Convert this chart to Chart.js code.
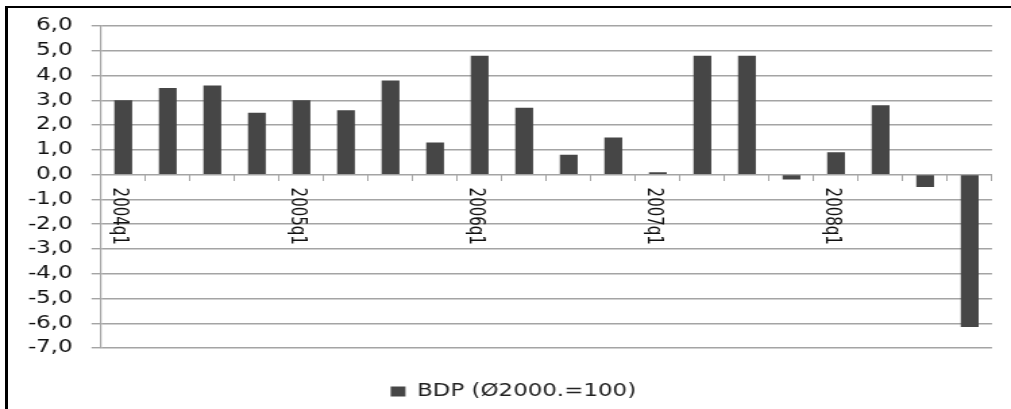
<!DOCTYPE html>
<html><head><meta charset="utf-8">
<script src="https://cdn.jsdelivr.net/npm/chart.js@4.4.1/dist/chart.umd.min.js"></script>
<style>
html,body{margin:0;padding:0;background:#fff;overflow:hidden;width:1011px;height:409px;}
#wrap{position:absolute;left:0;top:0;width:749px;height:410px;transform:scaleX(1.3498);transform-origin:0 0;}
#frame{position:absolute;left:5px;top:6px;width:1020px;height:420px;border-left:3px solid #000;border-top:2px solid #000;pointer-events:none;}
</style></head><body>
<div id="wrap"><canvas id="c" width="749" height="410"></canvas></div>
<div id="frame"></div>
<script>
const categories = ['2004q1','2004q2','2004q3','2004q4','2005q1','2005q2','2005q3','2005q4','2006q1','2006q2','2006q3','2006q4','2007q1','2007q2','2007q3','2007q4','2008q1','2008q2','2008q3','2008q4'];
const tickLabels = ['2004q1','','','','2005q1','','','','2006q1','','','','2007q1','','','','2008q1','','',''];
const bdpValues = [3.0, 3.5, 3.6, 2.5, 3.0, 2.6, 3.8, 1.3, 4.8, 2.7, 0.8, 1.5, 0.1, 4.8, 4.8, -0.2, 0.9, 2.8, -0.5, -6.15];
const seriesName = 'BDP (\u00D82000.=100)';
const yMin = -7, yMax = 6, yStep = 1;

const FONT = '"DejaVu Sans", Verdana, sans-serif';
const GRID = '#a4a4a4';

const rotatedLabels = {
  id: 'rotatedLabels',
  afterDatasetsDraw(chart) {
    const xs = chart.scales.x, ys = chart.scales.y;
    const ctx = chart.ctx;
    const y0 = ys.getPixelForValue(0);
    ctx.save();
    ctx.font = '15px ' + FONT;
    ctx.fillStyle = '#111';
    ctx.textAlign = 'left';
    ctx.textBaseline = 'alphabetic';
    tickLabels.forEach((t, i) => {
      if (!t) return;
      const px = xs.getPixelForValue(i) - 7.5;
      ctx.save();
      ctx.translate(px, y0 + 13);
      ctx.rotate(Math.PI / 2);
      ctx.fillText(t, 0, 0);
      ctx.restore();
    });
    ctx.restore();
  }
};

new Chart(document.getElementById('c'), {
  type: 'bar',
  data: {
    labels: categories,
    datasets: [{
      label: seriesName,
      data: bdpValues,
      backgroundColor: '#464646',
      borderWidth: 0,
      barPercentage: 0.4,
      categoryPercentage: 1.0
    }]
  },
  options: {
    responsive: false,
    animation: false,
    devicePixelRatio: 1,
    layout: { padding: { left: 20.8, right: 9.1, top: 26, bottom: 0 } },
    plugins: {
      tooltip: { enabled: false },
      legend: {
        position: 'bottom',
        labels: {
          boxWidth: 11, boxHeight: 10, padding: 35,
          color: '#222',
          font: { family: FONT, size: 17 }
        }
      }
    },
    scales: {
      x: {
        type: 'category',
        position: { y: 0 },
        grid: { drawOnChartArea: false, drawTicks: true, tickLength: 6, offset: true, color: GRID, lineWidth: 1 },
        border: { display: true, color: GRID, width: 1 },
        ticks: { display: false }
      },
      y: {
        position: 'left',
        min: yMin, max: yMax,
        afterFit: s => { s.width = 54; },
        ticks: {
          stepSize: yStep,
          padding: 14,
          color: '#111',
          font: { family: FONT, size: 17 },
          callback: v => Number(v).toFixed(1).replace('.', ',')
        },
        grid: { color: GRID, lineWidth: 1.4, tickLength: 7, drawTicks: true },
        border: { display: true, color: GRID, width: 1.2 }
      },
      yR: {
        type: 'linear',
        position: 'right',
        display: true,
        afterFit: s => { s.width = 5; },
        grid: { display: false, drawTicks: false },
        border: { display: false },
        ticks: { display: false }
      }
    }
  },
  plugins: [rotatedLabels]
});
</script>
</body></html>
